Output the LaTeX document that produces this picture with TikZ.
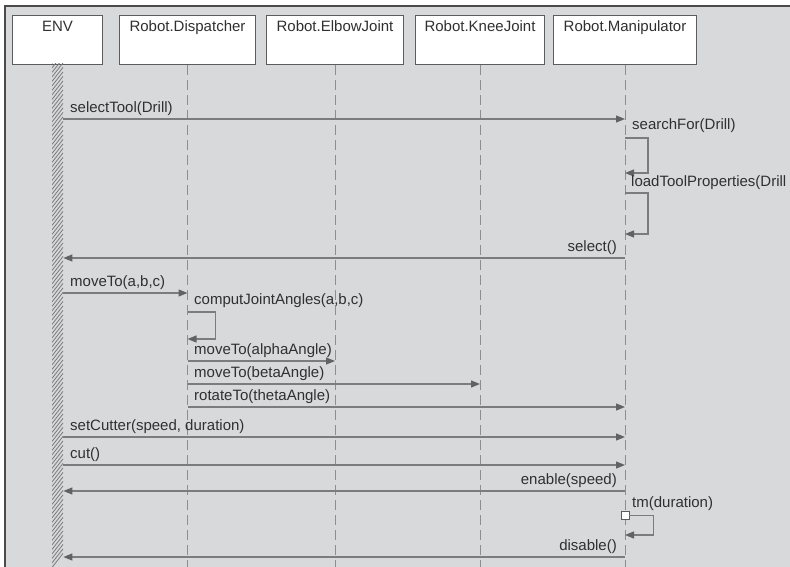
\documentclass[tikz,border=0pt]{standalone}
\usepackage{fontspec}
\setmainfont{Liberation Sans}
\usetikzlibrary{arrows.meta,calc}
\definecolor{canvas}{HTML}{D8D9DB}
\definecolor{frameline}{HTML}{4A4A4A}
\definecolor{boxline}{HTML}{5C5C5C}
\definecolor{msgline}{HTML}{7C7C7C}
\definecolor{lifecol}{HTML}{8E8E8E}
\definecolor{hatchcol}{HTML}{7A7A7A}
\definecolor{ink}{HTML}{303030}
\definecolor{tipfill}{HTML}{626262}

\begin{document}
\begin{tikzpicture}[x=1pt,y=-1pt,
  every node/.style={font=\fontsize{15}{18}\selectfont, text=ink},
  objbox/.style={draw=boxline, line width=1pt, fill=white, anchor=north west,
    inner xsep=0pt, inner ysep=3pt, text height=13pt, text depth=30pt, minimum height=49pt},
  life/.style={draw=lifecol, line width=0.9pt, dash pattern=on 10pt off 5pt},
  msg/.style={draw=msgline, line width=1.2pt, -{Triangle[length=9pt,width=7pt,fill=tipfill,color=tipfill]}},
  hatch/.style={draw=hatchcol, line width=0.8pt},
  lbl/.style={inner sep=0pt, anchor=base west},
  rlbl/.style={inner sep=0pt, anchor=base east},
]
% canvas and frame
\useasboundingbox (0,0) rectangle (790,567);
\fill[white] (0,0) rectangle (790,567);
\fill[canvas] (5,6) rectangle (790,567);
\draw[frameline, line width=2pt] (5,567) -- (5,6) -- (790,6);

\coordinate (bottom) at (0,567);

% object heads
\node[objbox, minimum width=90pt]  (env)  at (12,15)  {ENV};
\node[objbox, minimum width=136pt] (disp) at (119,15) {Robot.Dispatcher};
\node[objbox, minimum width=137pt] (elbow) at (266,15) {Robot.ElbowJoint};
\node[objbox, minimum width=129pt] (knee) at (415,15) {Robot.KneeJoint};
\node[objbox, minimum width=143pt] (man)  at (553,15) {Robot.Manipulator};

% lifelines
\draw[life] (disp.south)  -- (disp.south |- bottom);
\draw[life] (elbow.south) -- (elbow.south |- bottom);
\draw[life] (knee.south)  -- (knee.south |- bottom);
\draw[life] (man.south)   -- (man.south |- bottom);

% hatched environment bar
\node[inner sep=0pt, minimum width=11pt, minimum height=503pt, anchor=north west] (envbar) at (52,64) {};
\begin{scope}
  \clip (envbar.north west) rectangle (envbar.south east);
  \foreach \k in {0,4.5,...,520}
    \draw[hatch] ($(envbar.south west)+(0,-\k)$) -- ++(11,-14);
\end{scope}

% message levels
\coordinate (m1) at (0,119);
\coordinate (m2) at (0,258);
\coordinate (m3) at (0,293);
\coordinate (m4) at (0,361);
\coordinate (m5) at (0,384);
\coordinate (m6) at (0,407);
\coordinate (m7) at (0,437);
\coordinate (m8) at (0,465);
\coordinate (m9) at (0,491);
\coordinate (m10) at (0,557);

% messages
\draw[msg] (envbar.east |- m1) -- (man.south |- m1);
\node[lbl] (lselect) at (70,112.5) {selectTool(Drill)};

\coordinate (s1a) at (0,138);
\coordinate (s1b) at (0,173);
\draw[msg] (man.south |- s1a) -- ++(23,0) |- (man.south |- s1b);
\node[lbl] (lsearch) at (632,130) {searchFor(Drill)};

\coordinate (s2a) at (0,193);
\coordinate (s2b) at (0,234);
\draw[msg] (man.south |- s2a) -- ++(23,0) |- (man.south |- s2b);
\node[lbl] (lload) at (631,186) {loadToolProperties(Drill};

\draw[msg] (man.south |- m2) -- (envbar.east |- m2);
\node[rlbl] (lsel) at (617,251) {select()};

\draw[msg] (envbar.east |- m3) -- (disp.south |- m3);
\node[lbl] (lmove) at (70,286.5) {moveTo(a,b,c)};

\coordinate (s3a) at (0,312);
\coordinate (s3b) at (0,339);
\draw[msg] (disp.south |- s3a) -- ++(28,0) |- (disp.south |- s3b);
\node[lbl] (lcomp) at (194,304) {computJointAngles(a,b,c)};

\draw[msg] (disp.south |- m4) -- (elbow.south |- m4);
\node[lbl] (lalpha) at (194,354.5) {moveTo(alphaAngle)};

\draw[msg] (disp.south |- m5) -- (knee.south |- m5);
\node[lbl] (lbeta) at (194,377.5) {moveTo(betaAngle)};

\draw[msg] (disp.south |- m6) -- (man.south |- m6);
\node[lbl] (ltheta) at (194,400.5) {rotateTo(thetaAngle)};

\draw[msg] (envbar.east |- m7) -- (man.south |- m7);
\node[lbl] (lcutter) at (70,430.5) {setCutter(speed, duration)};

\draw[msg] (envbar.east |- m8) -- (man.south |- m8);
\node[lbl] (lcut) at (70,458.5) {cut()};

\draw[msg] (man.south |- m9) -- (envbar.east |- m9);
\node[rlbl] (lenable) at (617,484.5) {enable(speed)};

\coordinate (sq) at (0,515.5);
\coordinate (s4b) at (0,535);
\node[draw=boxline, fill=white, line width=0.9pt, minimum size=8pt, inner sep=0pt] (timer) at (man.south |- sq) {};
\draw[msg] (timer.east) -- ++(24,0) |- (man.south |- s4b);
\node[lbl] (ltm) at (632,507) {tm(duration)};

\draw[msg] (man.south |- m10) -- (envbar.east |- m10);
\node[rlbl] (ldisable) at (617,550.5) {disable()};
\end{tikzpicture}
\end{document}
